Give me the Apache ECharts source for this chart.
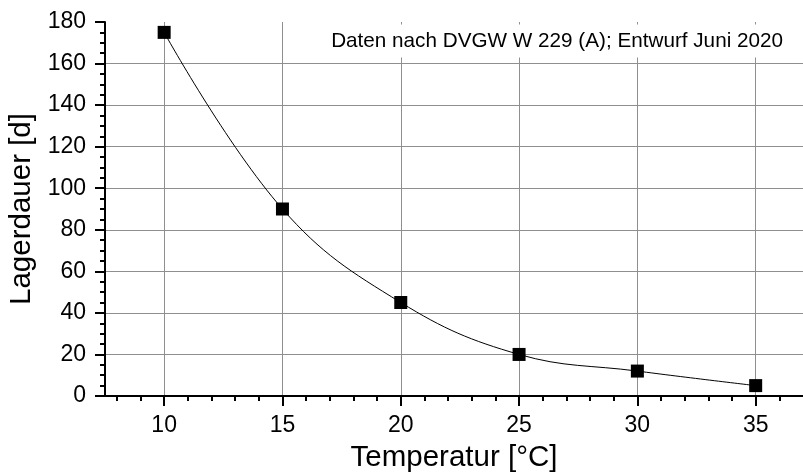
<!DOCTYPE html>
<html>
<head>
<meta charset="utf-8">
<script src="https://cdn.jsdelivr.net/npm/echarts@6/dist/echarts.min.js"></script>
<style>
  html, body { margin: 0; padding: 0; background: #fff; }
  #chart { width: 803px; height: 472px; }
</style>
</head>
<body>
<div id="chart"></div>
<script>
// Lagerdauer in Abhängigkeit der Temperatur
const temperatures = [10, 15, 20, 25, 30, 35];
const storageDays = [175, 90, 45, 20, 12, 5];

// Achsen-Ticks
const xMajorTicks = [10, 15, 20, 25, 30, 35];
const xMinorTicks = [8, 9, 11, 12, 13, 14, 16, 17, 18, 19, 21, 22, 23, 24,
  26, 27, 28, 29, 31, 32, 33, 34, 36];

const noteText = "Daten nach DVGW W 229 (A); Entwurf Juni 2020";
const font = "'Liberation Sans', Arial, sans-serif";

const chart = echarts.init(document.getElementById("chart"));

chart.setOption({
  backgroundColor: "#fff",
  animation: false,
  title: {
    text: noteText,
    right: 16,
    top: 25,
    padding: [6, 4],
    backgroundColor: "#fff",
    textStyle: { fontFamily: font, fontSize: 20.7, fontWeight: "normal", color: "#000", lineHeight: 20 }
  },
  grid: { left: 105, right: 0, top: 22, bottom: 76, outerBoundsMode: "none", containLabel: false },
  xAxis: [
    {
      type: "value",
      min: 7.5,
      max: 37,
      position: "bottom",
      name: "Temperatur [°C]",
      nameLocation: "middle",
      nameGap: 45,
      nameTextStyle: { fontFamily: font, fontSize: 29.5, color: "#000" },
      axisLine: { show: true, onZero: false, lineStyle: { color: "#000", width: 2 } },
      axisTick: { show: true, customValues: xMajorTicks, length: 10, lineStyle: { color: "#000", width: 2 } },
      axisLabel: { customValues: xMajorTicks, margin: 18.5, fontFamily: font, fontSize: 23, color: "#000" },
      splitLine: { show: true, lineStyle: { color: "#8f8f8f", width: 1 } }
    },
    {
      type: "value",
      min: 7.5,
      max: 37,
      position: "bottom",
      offset: 0,
      axisLine: { show: false },
      axisTick: { show: true, customValues: xMinorTicks, length: 5, lineStyle: { color: "#000", width: 2 } },
      axisLabel: { show: false },
      splitLine: { show: false }
    }
  ],
  yAxis: {
    type: "value",
    min: 0,
    max: 180,
    interval: 20,
    name: "Lagerdauer [d]",
    nameLocation: "middle",
    nameGap: 66,
    nameTextStyle: { fontFamily: font, fontSize: 29.5, color: "#000" },
    axisLine: { show: true, lineStyle: { color: "#000", width: 2 } },
    axisTick: { show: true, length: 10, lineStyle: { color: "#000", width: 2 } },
    minorTick: { show: true, splitNumber: 4, length: 5, lineStyle: { color: "#000", width: 2 } },
    axisLabel: { margin: 19, fontFamily: font, fontSize: 23, color: "#000" },
    splitLine: { show: true, showMaxLine: false, lineStyle: { color: "#8f8f8f", width: 1 } }
  },
  series: [
    {
      type: "line",
      xAxisIndex: 0,
      data: temperatures.map((t, i) => [t, storageDays[i]]),
      smooth: 0.4,
      symbol: "rect",
      symbolSize: 13,
      itemStyle: { color: "#000" },
      lineStyle: { color: "#000", width: 1 },
      z: 3
    }
  ]
});
</script>
</body>
</html>
